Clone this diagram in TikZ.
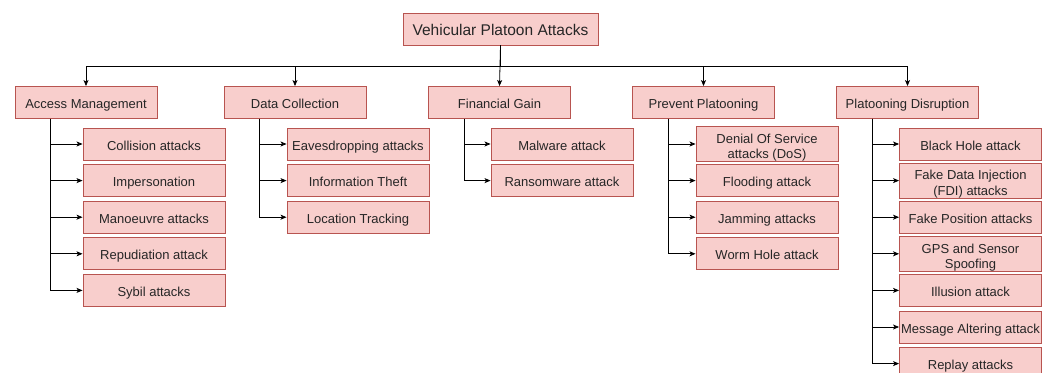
\documentclass[tikz,border=0pt]{standalone}
\usepackage{fontspec}
\setmainfont{Liberation Sans}
\usetikzlibrary{arrows.meta,calc}
\definecolor{boxfill}{HTML}{F8CECC}
\definecolor{boxdraw}{HTML}{B85450}
\newcommand\boxstrut{\rule[-2.8pt]{0pt}{17.6pt}}
\newcommand\rootstrut{\rule[-3.3pt]{0pt}{20.3pt}}
\newcommand\topstrut{\rule{0pt}{16.8pt}}
\newcommand\botstrut{\rule[-2.8pt]{0pt}{1pt}}
\begin{document}
\begin{tikzpicture}[x=1pt,y=-1pt,
  base/.style={draw=boxdraw,fill=boxfill,line width=0.9pt,minimum width=142pt,minimum height=32pt,inner sep=0pt,align=center,font=\fontsize{13}{15.3}\selectfont,text=black!85},
  box/.style={base,execute at begin node={\boxstrut},execute at end node={\boxstrut}},
  twobox/.style={base},
  rootbox/.style={base,minimum width=195pt,font=\fontsize{15.5}{18}\selectfont,
    execute at begin node={\rootstrut},execute at end node={\rootstrut}},
  conn/.style={draw=black,line width=0.8pt,-{Stealth[length=6pt,width=5pt,inset=1.5pt]}}]
\useasboundingbox (0,0) rectangle (1051,372);
\node[rootbox] (root) at (500.5,29) {Vehicular Platoon Attacks};
\node[box] (am) at (86,102.5) {Access Management};
\node[box] (dc) at (295,102.5) {Data Collection};
\node[box] (fg) at (499.5,102.5) {Financial Gain};
\node[box] (pp) at (703.5,102.5) {Prevent Platooning};
\node[box] (pd) at (907.5,102.5) {Platooning Disruption};
% Access Management children
\node[box] (am1) at (154,144) {Collision attacks};
\node[box] (am2) at (154,180.6) {Impersonation};
\node[box] (am3) at (154,217.2) {Manoeuvre attacks};
\node[box] (am4) at (154,253.8) {Repudiation attack};
\node[box] (am5) at (154,290.4) {Sybil attacks};
% Data Collection children
\node[box] (dc1) at (358,144) {Eavesdropping attacks};
\node[box] (dc2) at (358,180.6) {Information Theft};
\node[box] (dc3) at (358,217.2) {Location Tracking};
% Financial Gain children
\node[box] (fg1) at (562,144) {Malware attack};
\node[box] (fg2) at (562,180.6) {Ransomware attack};
% Prevent Platooning children
\node[twobox] (pp1) at (767,144) {\topstrut Denial Of Service\\attacks (DoS)\botstrut};
\node[box] (pp2) at (767,180.6) {Flooding attack};
\node[box] (pp3) at (767,217.2) {Jamming attacks};
\node[box] (pp4) at (767,253.8) {Worm Hole attack};
% Platooning Disruption children
\node[box] (pd1) at (970.5,144) {Black Hole attack};
\node[twobox] (pd2) at (970.5,180.6) {\topstrut Fake Data Injection\\(FDI) attacks\botstrut};
\node[box] (pd3) at (970.5,217.2) {Fake Position attacks};
\node[twobox] (pd4) at (970.5,253.8) {\topstrut GPS and Sensor\\Spoofing\botstrut};
\node[box] (pd5) at (970.5,290.4) {Illusion attack};
\node[box] (pd6) at (970.5,327) {Message Altering attack};
\node[box] (pd7) at (970.5,363.6) {Replay attacks};
% top level connectors
\draw[conn] (root.south) -- (fg.north);
\foreach \t in {am,dc,pp,pd}
  \draw[conn] (root.south) -- ++(0,21) -| (\t.north);
% children connectors
\foreach \p/\list in {am/{am1,am2,am3,am4,am5},dc/{dc1,dc2,dc3},fg/{fg1,fg2},pp/{pp1,pp2,pp3,pp4},pd/{pd1,pd2,pd3,pd4,pd5,pd6,pd7}}
  \foreach \c in \list
    \draw[conn] ([xshift=36pt]\p.south west) |- (\c.west);
\end{tikzpicture}
\end{document}
